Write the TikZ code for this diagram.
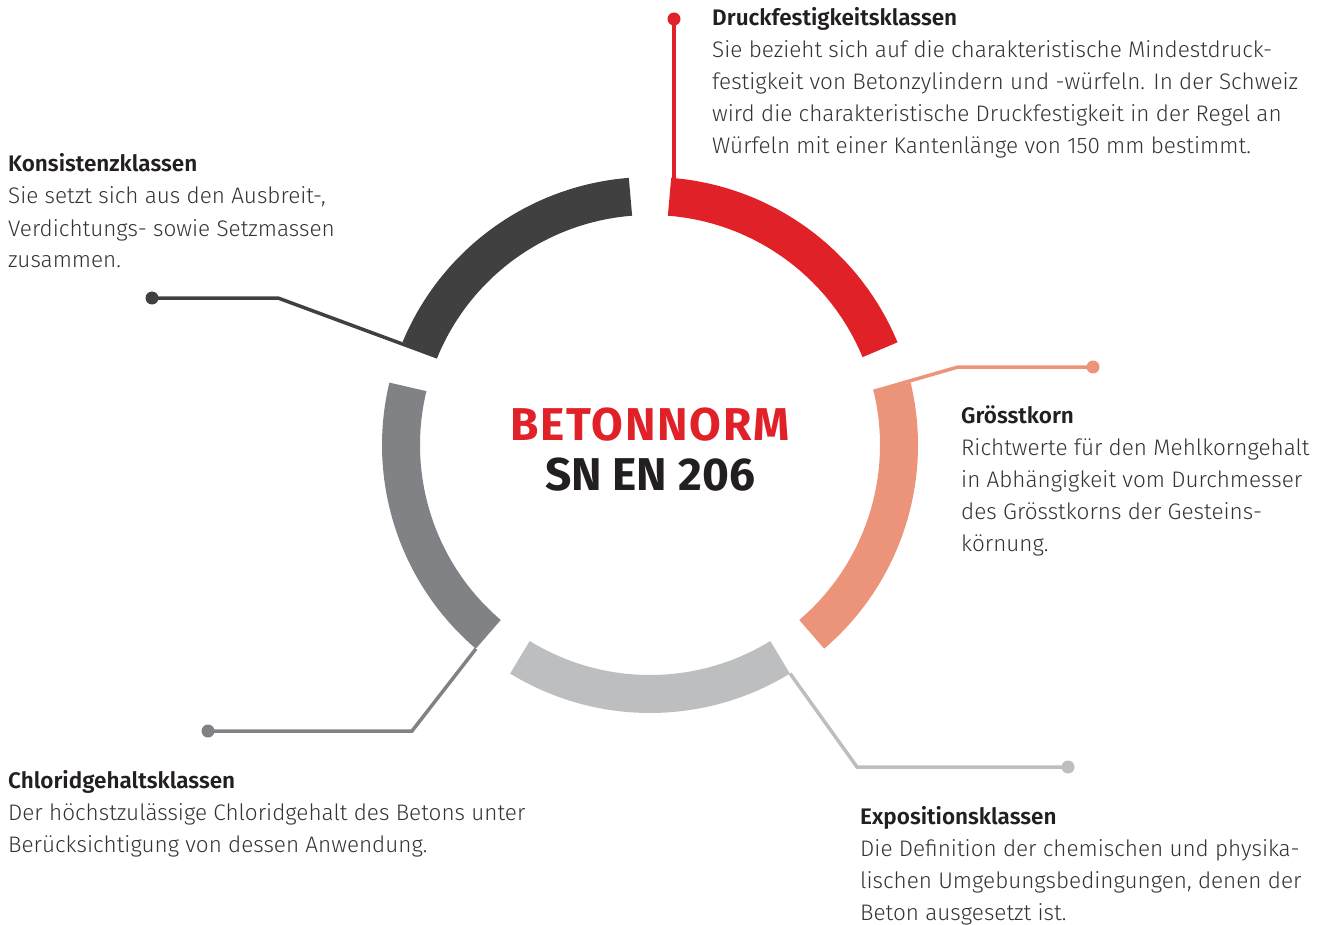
\documentclass[tikz,border=0pt]{standalone}
\usepackage{fontspec}
\setmainfont{Fira Sans Light}[BoldFont=Fira Sans SemiBold]
\newfontfamily\titlefont{Fira Sans Bold}[LetterSpace=4]
\newfontfamily\normfont{Fira Sans Bold}
\usetikzlibrary{positioning,calc}
\definecolor{cRed}{HTML}{E02127}
\definecolor{cDark}{HTML}{404041}
\definecolor{cMid}{HTML}{808285}
\definecolor{cLight}{HTML}{BCBEC0}
\definecolor{cSalmon}{HTML}{EC947A}
\definecolor{txt}{HTML}{333333}
\definecolor{head}{HTML}{231F20}
\newcommand{\hd}[1]{{\bfseries\color{head}#1}}

\begin{document}
\begin{tikzpicture}[x=1pt,y=1pt,
	ring/.style={line width=38pt},
	lead/.style={line width=3.5pt},
	dot/.style={circle,fill,inner sep=0pt,minimum size=13pt},
	% base of a block is the baseline of its last line
	block/.style={align=left,inner sep=0pt,anchor=base west,text=txt,font=\fontsize{22.5}{32}\selectfont}]
	\useasboundingbox (0,0) rectangle (1327,-925);
	\coordinate (C) at (650,-445);

	% ends of the segments
	\coordinate (eRed) at ($(C)+(85.5:249)$);
	\coordinate (eDark) at ($(C)+(157.5:230)$);
	\coordinate (eMid) at ($(C)+(229.5:268)$);
	\coordinate (eLight) at ($(C)+(301.5:268)$);
	\coordinate (eSalmon) at ($(C)+(13.5:230)$);

	\node[dot,cRed] (dRed) at (674,-19) {};
	\node[dot,cDark] (dDark) at (152,-298) {};
	\node[dot,cMid] (dMid) at (208,-731) {};
	\node[dot,cLight] (dLight) at (1068,-767) {};
	\node[dot,cSalmon] (dSalmon) at (1093,-367) {};

	\coordinate (bDark) at (278,-298);
	\coordinate (bMid) at (412,-731);
	\coordinate (bLight) at (857,-767);
	\coordinate (bSalmon) at (958,-367);

	\draw[lead,cRed] (dRed.center) -- (dRed |- eRed);
	\draw[lead,cDark] (dDark.center) -- (bDark) -- (eDark);
	\draw[lead,cMid] (dMid.center) -- (bMid) -- (eMid);
	\draw[lead,cLight] (dLight.center) -- (bLight) -- (eLight);
	\draw[lead,cSalmon] (dSalmon.center) -- (bSalmon) -- (eSalmon);

	% ring
	\foreach \a/\col in {54/cRed,126/cDark,198/cMid,270/cLight,342/cSalmon}
		\draw[ring,\col] ($(C)+(\a-31.5:249)$) arc (\a-31.5:\a+31.5:249);

	\node[font=\titlefont\fontsize{46}{50}\selectfont,text=cRed,anchor=base] (title) at (650,-440) {BETONNORM};
	\node[font=\normfont\fontsize{46}{50}\selectfont,text=head,anchor=base] (norm) at (650,-490) {SN EN 206};

	\node[block] (tRed) at (712,-154) {\hd{Druckfestigkeitsklassen}\\
		Sie bezieht sich auf die charakteristische Mindestdruck-\\
		festigkeit von Betonzylindern und -würfeln. In der Schweiz\\
		wird die charakteristische Druckfestigkeit in der Regel an\\
		Würfeln mit einer Kantenlänge von 150 mm bestimmt.};
	\node[block] (tDark) at (8,-268) {\hd{Konsistenzklassen}\\
		Sie setzt sich aus den Ausbreit-,\\
		Verdichtungs- sowie Setzmassen\\
		zusammen.};
	\node[block] (tSalmon) at (961,-551) {\hd{Grösstkorn}\\
		Richtwerte für den Mehlkorngehalt\\
		in Abhängigkeit vom Durchmesser\\
		des Grösstkorns der Gesteins-\\
		körnung.};
	\node[block] (tMid) at (8,-852) {\hd{Chloridgehaltsklassen}\\
		Der höchstzulässige Chloridgehalt des Betons unter\\
		Berücksichtigung von dessen Anwendung.};
	\node[block] (tLight) at (860,-920) {\hd{Expositionsklassen}\\
		Die Definition der chemischen und physika-\\
		lischen Umgebungsbedingungen, denen der\\
		Beton ausgesetzt ist.};
\end{tikzpicture}
\end{document}
